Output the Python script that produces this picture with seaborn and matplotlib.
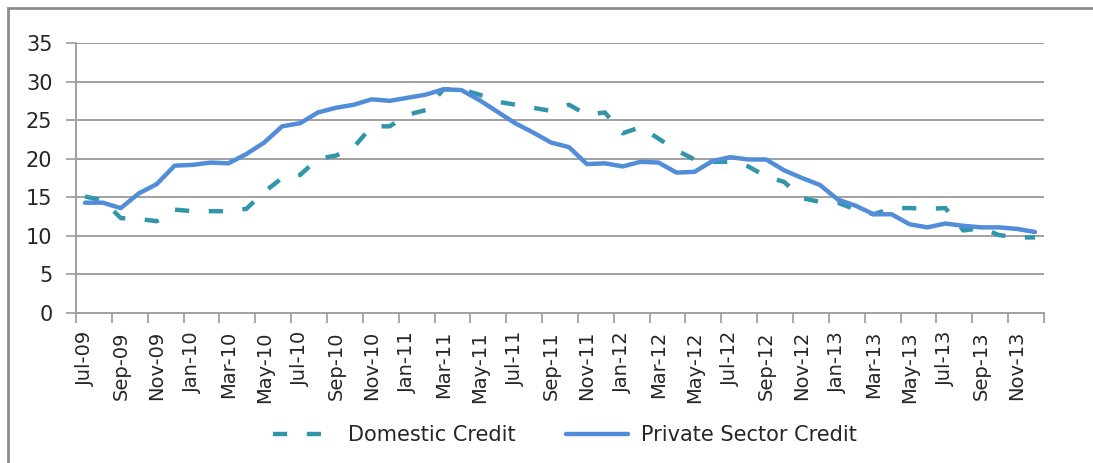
import pandas as pd
import seaborn as sns
import matplotlib.pyplot as plt
from matplotlib.patches import Rectangle

months = pd.date_range("2009-07-01", periods=54, freq="MS").strftime("%b-%y").tolist()

domestic = [15.1, 14.6, 12.3, 12.2, 11.9, 13.4, 13.2, 13.2, 13.2, 13.5,
            15.7, 17.5, 17.9, 20.0, 20.4, 21.5, 24.2, 24.2, 25.7, 26.3,
            29.0, 29.0, 28.3, 27.4, 27.0, 26.6, 26.2, 27.0, 25.7, 26.0,
            23.3, 24.1, 22.6, 21.1, 19.9, 19.6, 19.6, 19.0, 17.7, 17.0,
            14.9, 14.4, 14.3, 13.4, 12.8, 13.6, 13.6, 13.5, 13.6, 10.7,
            11.0, 10.1, 9.8, 9.8]
private = [14.3, 14.3, 13.6, 15.5, 16.7, 19.1, 19.2, 19.5, 19.4, 20.6,
           22.1, 24.2, 24.6, 26.0, 26.6, 27.0, 27.7, 27.5, 27.9, 28.3,
           29.0, 28.9, 27.6, 26.1, 24.6, 23.4, 22.1, 21.5, 19.3, 19.4,
           19.0, 19.6, 19.5, 18.2, 18.3, 19.7, 20.2, 19.9, 19.9, 18.5,
           17.5, 16.6, 14.7, 13.9, 12.8, 12.8, 11.5, 11.1, 11.6, 11.3,
           11.1, 11.1, 10.9, 10.5]

df = pd.DataFrame({
    "pos": list(range(len(months))) * 2,
    "value": domestic + private,
    "series": ["Domestic Credit"] * len(domestic) + ["Private Sector Credit"] * len(private),
})

sns.set_style("white")
plt.rcParams["font.family"] = ["DejaVu Sans"]

fig = plt.figure(figsize=(10.93, 4.63), dpi=100)
ax = fig.add_axes([76 / 1093, 1 - 313 / 463, (1044 - 76) / 1093, 270 / 463])

sns.lineplot(data=df, x="pos", y="value", hue="series", style="series",
             palette={"Domestic Credit": "#3296AA", "Private Sector Credit": "#528DDA"},
             dashes={"Domestic Credit": (3.2, 4.4), "Private Sector Credit": ""},
             linewidth=3.2, ax=ax, legend=True)
for ln in ax.lines:
    ln.set_solid_capstyle("round")

ax.set_xlim(-0.5, len(months) - 0.5)
ax.set_ylim(0, 35)
ax.set_yticks(range(0, 36, 5))
ax.set_xticks(range(0, len(months), 2))
ax.set_xticklabels(months[::2], rotation=90, fontsize=14)
ax.set_xticks([i - 0.5 for i in range(0, len(months) + 1, 2)], minor=True)
ax.tick_params(axis="x", which="major", length=0, pad=13)
ax.tick_params(axis="x", which="minor", length=7, color="#9A9A9A", width=1.2, direction="out")
ax.tick_params(axis="y", length=7, color="#9A9A9A", width=1.2, labelsize=15, pad=10)
ax.xaxis.set_ticks_position("bottom")
ax.yaxis.set_ticks_position("left")
ax.grid(axis="y", color="#A0A0A0", linewidth=1.4)
ax.set_axisbelow(True)
for s in ["top", "right"]:
    ax.spines[s].set_visible(False)
ax.spines["left"].set_color("#A0A0A0")
ax.spines["left"].set_linewidth(1.4)
ax.spines["bottom"].set_color("#A0A0A0")
ax.spines["bottom"].set_linewidth(1.4)
ax.set_xlabel("")
ax.set_ylabel("")

handles, labels = ax.get_legend_handles_labels()
ax.legend(handles, labels, loc="center", bbox_to_anchor=(0.517, 0.06),
          bbox_transform=fig.transFigure, ncol=2, frameon=False, handlelength=3.0,
          columnspacing=2.4, handletextpad=0.6, prop={"size": 15})

fig.patches.append(Rectangle((8 / 1093, -0.2), 1.5, 1.2 - 8 / 463,
                             transform=fig.transFigure, fill=False,
                             edgecolor="#8C8C8C", linewidth=2))

fig.savefig("out.png", dpi=100)
